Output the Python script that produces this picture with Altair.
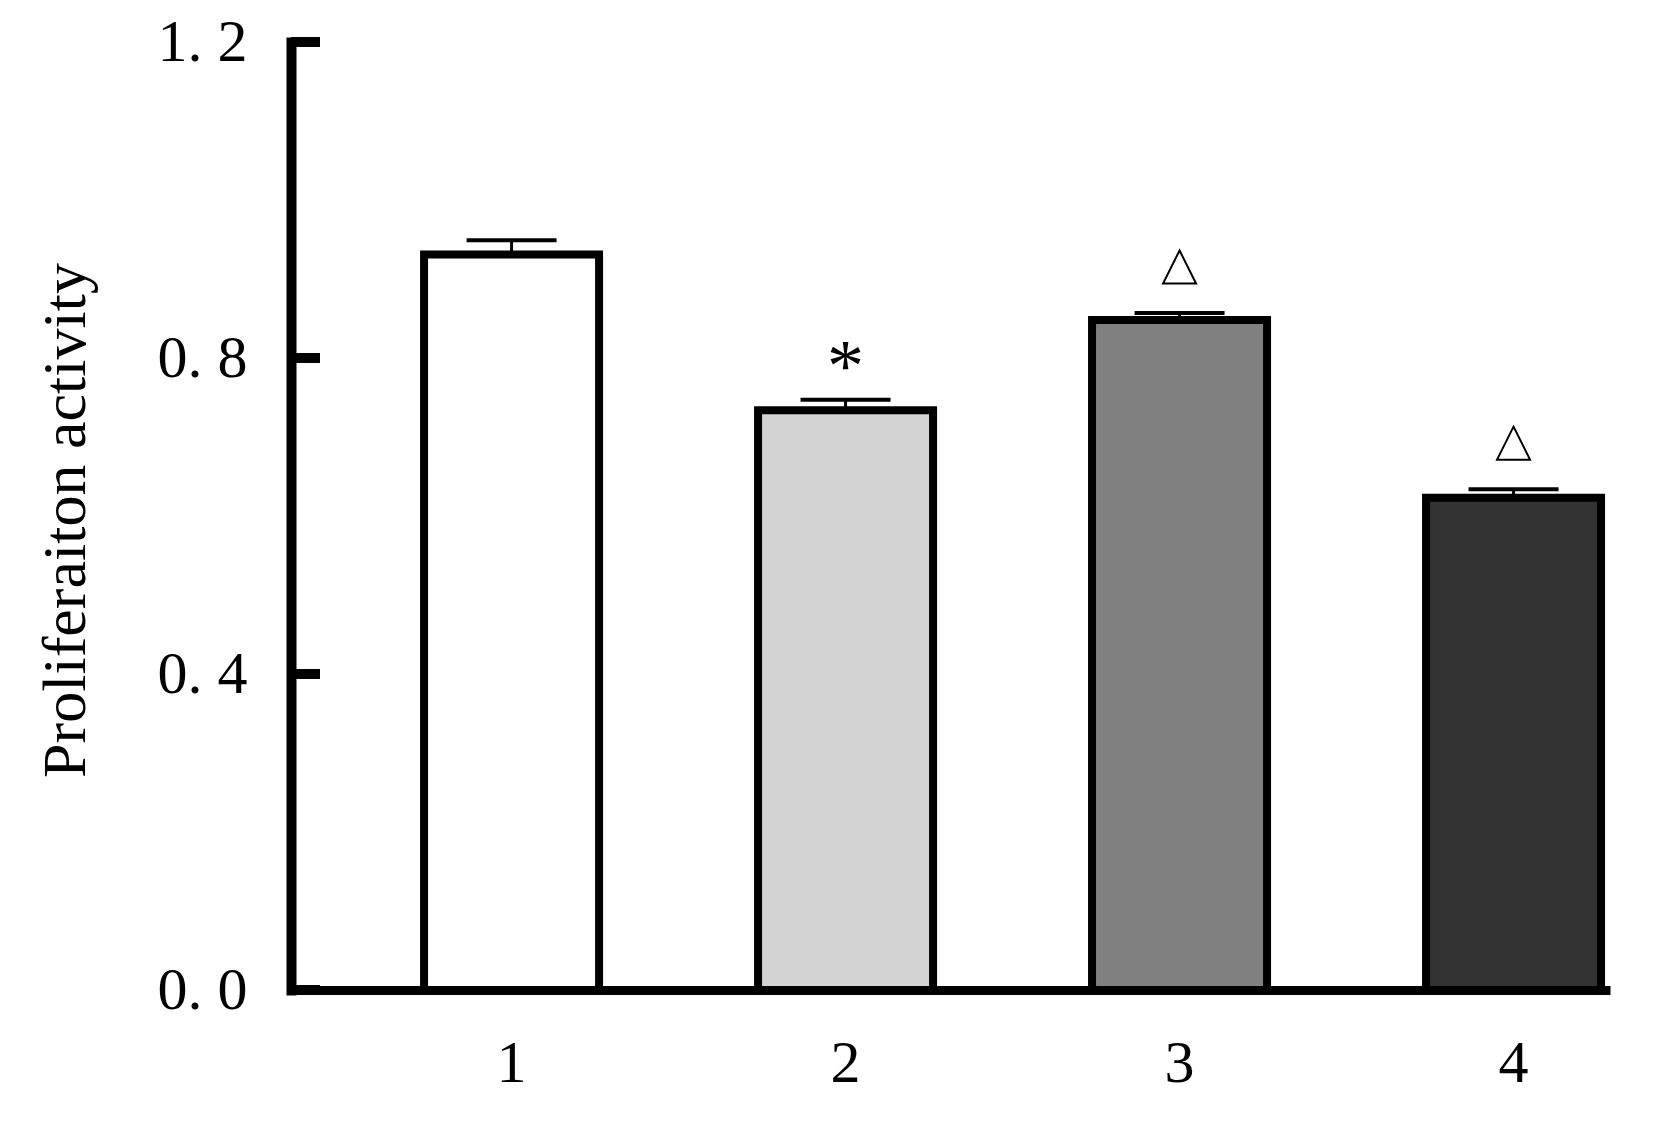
import altair as alt
import pandas as pd

groups = ["1", "2", "3", "4"]
values = [0.931, 0.734, 0.848, 0.623]
errors = [0.018, 0.013, 0.009, 0.011]
fills = ["#ffffff", "#d3d3d3", "#808080", "#333333"]
notes = ["", "*", "△", "△"]
y_ticks = [0.0, 0.4, 0.8, 1.2]

df = pd.DataFrame({"group": groups, "value": values, "err": errors,
                   "fill": fills, "note": notes})
ticks_df = pd.DataFrame({"t": y_ticks})

FONT = "Liberation Serif"

x_scale = alt.Scale(domain=groups, paddingInner=0.476, paddingOuter=0.2126, align=0.937)
y_scale = alt.Scale(domain=[0, 1.2], nice=False, zero=True)

x_enc = alt.X("group:N", scale=x_scale, sort=None,
              axis=alt.Axis(title=None, ticks=False, labelAngle=0, labelFont=FONT,
                            labelFontSize=60, labelColor="black", labelPadding=44,
                            labelBaseline="top",
                            domainColor="black", domainWidth=9, domainCap="butt"))
y_enc = alt.Y("value:Q", scale=y_scale,
              axis=alt.Axis(title="Proliferaiton activity", values=y_ticks, ticks=False,
                            labelExpr="replace(format(datum.value, '.1f'), '.', '. ')",
                            labelFont=FONT, labelFontSize=60, labelColor="black",
                            labelPadding=44, labelBaseline="middle",
                            titleFont=FONT, titleFontSize=62, titleFontWeight="normal",
                            titleColor="black", titleX=-226, titleY=478, titleAngle=270,
                            titleAlign="center", titleBaseline="middle",
                            domainColor="black", domainWidth=10, domainCap="square",
                            grid=False))

base = alt.Chart(df).transform_calculate(top="datum.value + datum.err")

stems = base.mark_rule(color="black", strokeWidth=3, opacity=1).encode(
    x=x_enc, y=y_enc, y2="top:Q")
caps = base.mark_tick(color="black", size=90, thickness=4, orient="horizontal",
                      opacity=1).encode(
    x=x_enc, y=alt.Y("top:Q", scale=y_scale))
bars = base.mark_bar(stroke="black", strokeWidth=8, strokeJoin="miter", opacity=1).encode(
    x=x_enc, y=y_enc, fill=alt.Fill("fill:N", scale=None))
stars = base.transform_filter("datum.note == '*'").mark_text(
    font=FONT, fontSize=74, baseline="alphabetic", align="center", dy=-9, color="black"
).encode(x=x_enc, y=alt.Y("top:Q", scale=y_scale), text="note:N")
tris = base.transform_filter("datum.note == '△'").mark_point(
    shape="M0,-1L1,1L-1,1Z", size=1089, filled=False, stroke="black",
    strokeWidth=2, opacity=1, yOffset=-46
).encode(x=x_enc, y=alt.Y("top:Q", scale=y_scale))

yticks = alt.Chart(ticks_df).mark_rule(color="black", strokeWidth=10).encode(
    y=alt.Y("t:Q", scale=y_scale), x=alt.value(0), x2=alt.value(29))

chart = alt.layer(stems, caps, bars, stars, tris, yticks).properties(
    width=1319, height=948,
    autosize=alt.AutoSizeParams(type="none"),
    padding={"left": 283, "top": 34, "right": 30, "bottom": 120},
    background="white",
).configure_view(stroke=None)

chart.save("out.html", embed_options={"renderer": "svg", "actions": False})
